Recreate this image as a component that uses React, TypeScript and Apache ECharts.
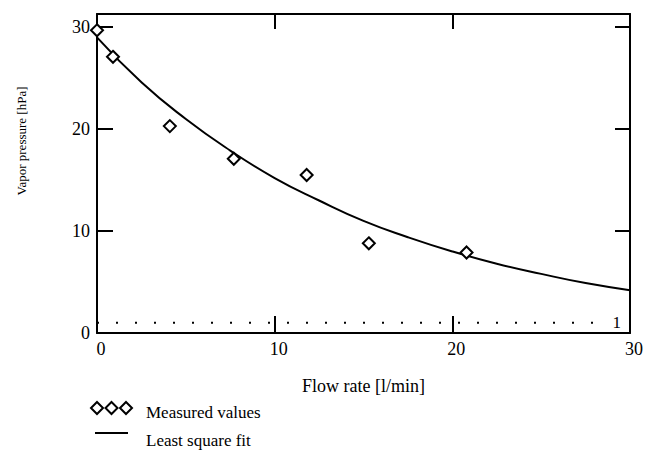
import { useEffect, useRef } from 'react';
import * as echarts from 'echarts';

const measuredFlow = [0, 0.9, 4.1, 7.7, 11.8, 15.3, 20.8];
const measuredPressure = [29.7, 27.1, 20.3, 17.1, 15.5, 8.8, 7.9];
const fitFlow = [0, 2.5, 5, 7.5, 10, 12.5, 15, 17.5, 20, 22.5, 25, 27.5, 30];
const fitPressure = [29.0, 24.6, 21.0, 17.9, 15.2, 13.0, 11.0, 9.4, 8.0, 6.8, 5.8, 4.9, 4.2];
const refFlow = [0, 28];
const refPressure = [1, 1];
const refLabel = '1';
const xName = 'Flow rate [l/min]';
const yName = 'Vapor pressure [hPa]';
const legendNames = ['Measured values', 'Least square fit'];

const FONT = 'Liberation Serif';

export default function App() {
  const ref = useRef<HTMLDivElement>(null);
  useEffect(() => {
    const chart = echarts.init(ref.current!, null, { renderer: 'svg' });
    const tickLabel = { color: '#000', fontFamily: FONT, fontSize: 18 };
    const line = { onZero: false, lineStyle: { color: '#000', width: 2 } };
    const hideNonTen = (v: number) => (Math.abs(v % 10) < 1e-9 ? String(v) : '');
    chart.setOption({
      animation: false,
      backgroundColor: '#fff',
      grid: { left: 97, right: 14, top: 14, bottom: 123 },
      xAxis: [
        {
          type: 'value', min: 0, max: 30, interval: 10, position: 'bottom',
          axisLine: line, splitLine: { show: false },
          axisTick: { inside: true, length: 17, lineStyle: { color: '#000', width: 2 } },
          axisLabel: { ...tickLabel, margin: 7, padding: [0, 0, 0, 8], formatter: hideNonTen },
          name: xName, nameLocation: 'middle', nameGap: 44,
          nameTextStyle: { color: '#000', fontFamily: FONT, fontSize: 18 },
        },
        {
          type: 'value', min: 0, max: 30, interval: 10, position: 'top',
          axisLine: line, splitLine: { show: false },
          axisTick: { inside: true, length: 15, lineStyle: { color: '#000', width: 2 } },
          axisLabel: { show: false },
        },
      ],
      yAxis: [
        {
          type: 'value', min: 0, max: 31.3, interval: 10, position: 'left',
          axisLine: line, splitLine: { show: false },
          axisTick: { inside: true, length: 16, lineStyle: { color: '#000', width: 2 } },
          axisLabel: { ...tickLabel, margin: 7, formatter: hideNonTen },
        },
        {
          type: 'value', min: 0, max: 31.3, interval: 10, position: 'right',
          axisLine: line, splitLine: { show: false },
          axisTick: { inside: true, length: 15, lineStyle: { color: '#000', width: 2 } },
          axisLabel: { show: false },
        },
      ],
      series: [
        {
          type: 'line', name: legendNames[1], smooth: true, showSymbol: false, symbol: 'none',
          data: fitFlow.map((x, i) => [x, fitPressure[i]]),
          lineStyle: { color: '#000', width: 2 }, z: 2,
        },
        {
          type: 'line', showSymbol: false, symbol: 'none',
          data: refFlow.map((x, i) => [x, refPressure[i]]),
          lineStyle: { color: '#000', width: 2, type: [2, 17] },
          endLabel: { show: true, formatter: refLabel, distance: 18, color: '#000', fontFamily: FONT, fontSize: 17 },
          z: 1,
        },
        {
          type: 'scatter', name: legendNames[0], symbol: 'diamond', symbolSize: 12,
          data: measuredFlow.map((x, i) => [x, measuredPressure[i]]),
          itemStyle: { color: '#fff', borderColor: '#000', borderWidth: 2, opacity: 1 },
          clip: false, z: 3,
        },
      ],
      graphic: [
        {
          type: 'text', x: 21, y: 141, rotation: Math.PI / 2,
          style: { text: yName, fill: '#000', font: `13px "${FONT}"`, align: 'center', verticalAlign: 'middle' },
        },
        ...[97, 111.5, 126].map((cx) => ({
          type: 'polygon',
          shape: { points: [[cx, 402], [cx + 6, 408], [cx, 414], [cx - 6, 408]] },
          style: { fill: '#fff', stroke: '#000', lineWidth: 2 },
        })),
        {
          type: 'text', x: 146, y: 412,
          style: { text: legendNames[0], fill: '#000', font: `17px "${FONT}"`, verticalAlign: 'middle' },
        },
        {
          type: 'line', shape: { x1: 95, y1: 433, x2: 128, y2: 433 },
          style: { stroke: '#000', lineWidth: 2 },
        },
        {
          type: 'text', x: 146, y: 440,
          style: { text: legendNames[1], fill: '#000', font: `17px "${FONT}"`, verticalAlign: 'middle' },
        },
      ],
    });
    return () => chart.dispose();
  }, []);
  return <div ref={ref} style={{ width: 646, height: 456, position: 'absolute', left: 0, top: 0 }} />;
}
